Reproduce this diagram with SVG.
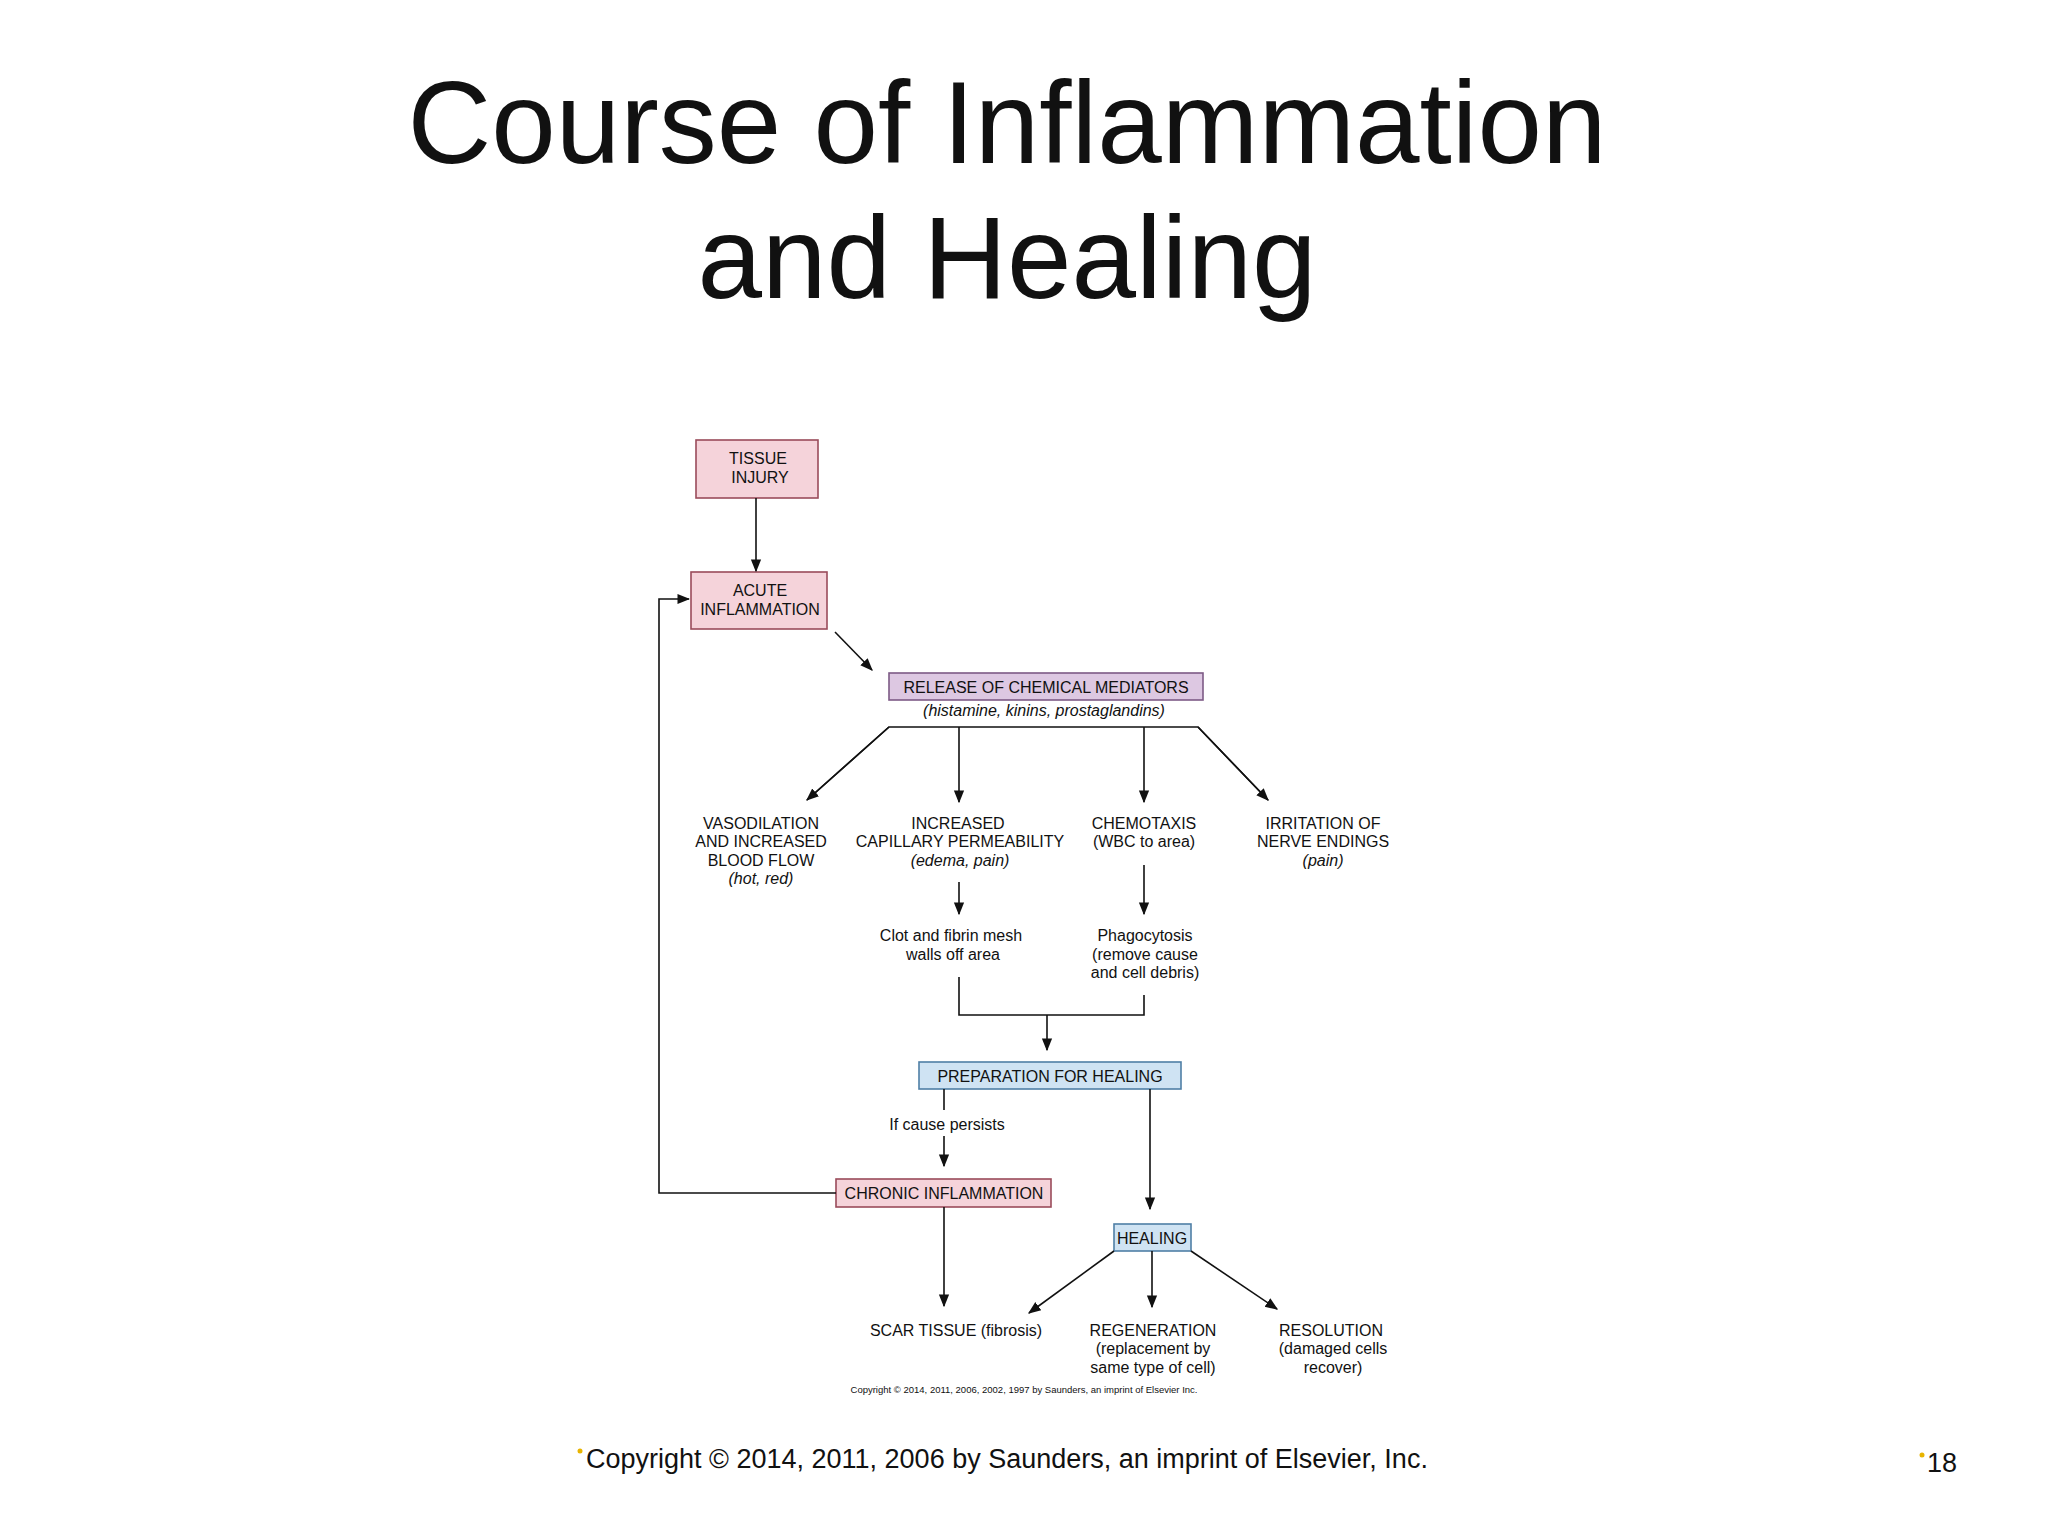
<svg xmlns="http://www.w3.org/2000/svg" width="2048" height="1536" viewBox="0 0 2048 1536">
<style>
text{font-family:"Liberation Sans",Arial,sans-serif;fill:#111}
.t{font-size:16px;text-anchor:middle}
.i{font-style:italic}
.pink{fill:#f5d3da;stroke:#9a4b5a;stroke-width:1.6}
.purp{fill:#ddc8e2;stroke:#7d5a86;stroke-width:1.6}
.blue{fill:#cfe3f3;stroke:#4f7fa6;stroke-width:1.6}
.c{fill:none;stroke:#111;stroke-width:1.6}
</style>
<defs><marker id="a" viewBox="0 0 10 10" refX="9" refY="5" markerWidth="8" markerHeight="8" orient="auto"><path d="M0,1 L10,5 L0,9 z" fill="#111"/></marker></defs>
<rect width="2048" height="1536" fill="#fff"/>
<text x="1007" y="163" font-size="116" text-anchor="middle">Course of Inflammation</text>
<text x="1007" y="298" font-size="116" text-anchor="middle">and Healing</text>
<g id="tissue"><rect class="pink" x="696" y="440" width="122" height="58"/><text class="t" x="758" y="464">TISSUE</text><text class="t" x="760" y="483">INJURY</text></g>
<g id="acute"><rect class="pink" x="691" y="572" width="136" height="57"/><text class="t" x="760" y="596">ACUTE</text><text class="t" x="760" y="615">INFLAMMATION</text></g>
<g id="release"><rect class="purp" x="889" y="673" width="314" height="27"/><text class="t" x="1046" y="693">RELEASE OF CHEMICAL MEDIATORS</text><text class="t i" x="1044" y="716" font-size="15">(histamine, kinins, prostaglandins)</text></g>
<g id="vaso"><text class="t" x="761" y="829">VASODILATION</text><text class="t" x="761" y="847">AND INCREASED</text><text class="t" x="761" y="866">BLOOD FLOW</text><text class="t i" x="761" y="884">(hot, red)</text></g>
<g id="perm"><text class="t" x="958" y="829">INCREASED</text><text class="t" x="960" y="847">CAPILLARY PERMEABILITY</text><text class="t i" x="960" y="866">(edema, pain)</text></g>
<g id="chemo"><text class="t" x="1144" y="829">CHEMOTAXIS</text><text class="t" x="1144" y="847">(WBC to area)</text></g>
<g id="irr"><text class="t" x="1323" y="829">IRRITATION OF</text><text class="t" x="1323" y="847">NERVE ENDINGS</text><text class="t i" x="1323" y="866">(pain)</text></g>
<g id="clot"><text class="t" x="951" y="941">Clot and fibrin mesh</text><text class="t" x="953" y="960">walls off area</text></g>
<g id="phago"><text class="t" x="1145" y="941">Phagocytosis</text><text class="t" x="1145" y="960">(remove cause</text><text class="t" x="1145" y="978">and cell debris)</text></g>
<g id="prep"><rect class="blue" x="919" y="1062" width="262" height="27"/><text class="t" x="1050" y="1082">PREPARATION FOR HEALING</text></g>
<g id="persist"><text class="t" x="947" y="1130" font-size="15">If cause persists</text></g>
<g id="chronic"><rect class="pink" x="836" y="1179" width="215" height="28"/><text class="t" x="944" y="1199">CHRONIC INFLAMMATION</text></g>
<g id="healing"><rect class="blue" x="1114" y="1224" width="77" height="27"/><text class="t" x="1152" y="1244">HEALING</text></g>
<g id="scar"><text class="t" x="956" y="1336">SCAR TISSUE (fibrosis)</text></g>
<g id="regen"><text class="t" x="1153" y="1336">REGENERATION</text><text class="t" x="1153" y="1354">(replacement by</text><text class="t" x="1153" y="1373">same type of cell)</text></g>
<g id="resol"><text class="t" x="1331" y="1336">RESOLUTION</text><text class="t" x="1333" y="1354">(damaged cells</text><text class="t" x="1333" y="1373">recover)</text></g>
<g id="connectors" class="c">
<path class="c" d="M756,498 V571" marker-end="url(#a)"/>
<path class="c" d="M835,632 L872,670" marker-end="url(#a)"/>
<path class="c" d="M807,800 L889,727 H1198 L1268,800"/>
<path class="c" d="M889,727 L807,800" marker-end="url(#a)"/>
<path class="c" d="M1198,727 L1268,800" marker-end="url(#a)"/>
<path class="c" d="M959,727 V802" marker-end="url(#a)"/>
<path class="c" d="M1144,727 V802" marker-end="url(#a)"/>
<path class="c" d="M959,882 V914" marker-end="url(#a)"/>
<path class="c" d="M1144,865 V914" marker-end="url(#a)"/>
<path class="c" d="M959,977 V1015 H1144 V995"/>
<path class="c" d="M1047,1015 V1050" marker-end="url(#a)"/>
<path class="c" d="M944,1089 V1110"/>
<path class="c" d="M944,1136 V1166" marker-end="url(#a)"/>
<path class="c" d="M1150,1089 V1209" marker-end="url(#a)"/>
<path class="c" d="M836,1193 H659 V599 H689" marker-end="url(#a)"/>
<path class="c" d="M944,1207 V1306" marker-end="url(#a)"/>
<path class="c" d="M1114,1251 L1029,1313" marker-end="url(#a)"/>
<path class="c" d="M1152,1251 V1307" marker-end="url(#a)"/>
<path class="c" d="M1191,1251 L1277,1309" marker-end="url(#a)"/>
</g>
<text x="1024" y="1393" font-size="9.5" text-anchor="middle">Copyright © 2014, 2011, 2006, 2002, 1997 by Saunders, an imprint of Elsevier Inc.</text>
<circle cx="580" cy="1451" r="2.5" fill="#e8b400"/>
<text x="586" y="1468" font-size="27">Copyright © 2014, 2011, 2006 by Saunders, an imprint of Elsevier, Inc.</text>
<circle cx="1922" cy="1455" r="2.5" fill="#e8b400"/>
<text x="1927" y="1472" font-size="27">18</text>
</svg>
